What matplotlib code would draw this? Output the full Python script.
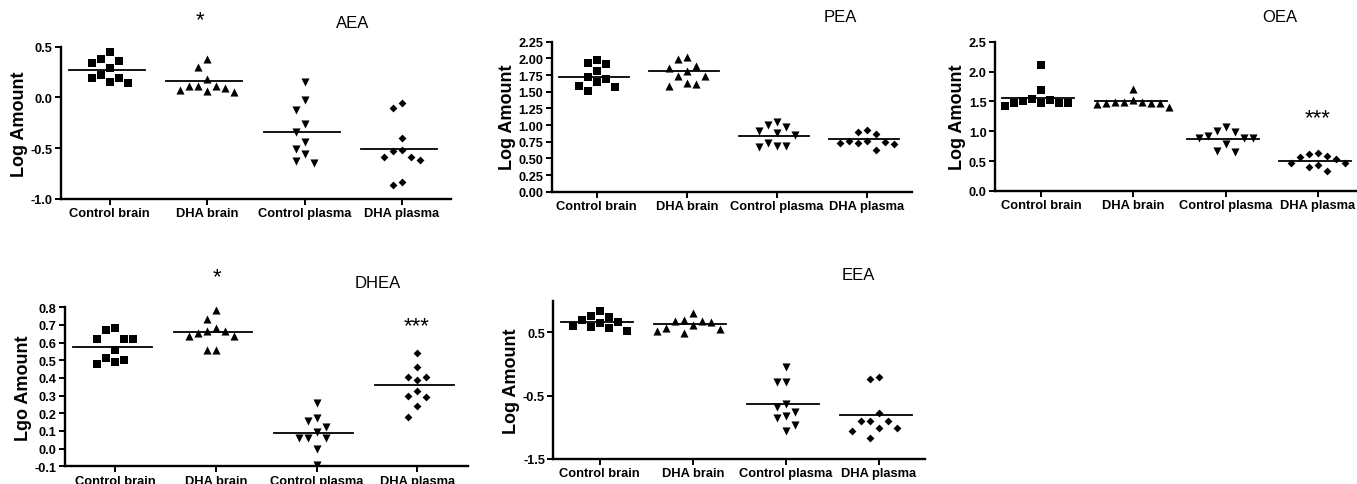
import matplotlib
matplotlib.use("Agg")
import matplotlib.pyplot as plt
import numpy as np

plt.rcParams['font.family'] = ['Liberation Sans', 'DejaVu Sans']

groups = ["Control brain", "DHA brain", "Control plasma", "DHA plasma"]

# values (log amount), one list per group
aea = [
    [0.378, 0.339, 0.444, 0.355, 0.289, 0.220, 0.187, 0.141, 0.155, 0.187],
    [0.378, 0.303, 0.181, 0.115, 0.115, 0.076, 0.049, 0.066, 0.089, 0.115],
    [0.155, -0.026, -0.125, -0.266, -0.336, -0.434, -0.510, -0.553, -0.641, -0.622],
    [-0.059, -0.105, -0.401, -0.530, -0.516, -0.589, -0.612, -0.589, -0.832, -0.862],
]
aea_mid = [0.27, 0.158, -0.339, -0.507]

pea = [
    [1.975, 1.915, 1.925, 1.805, 1.715, 1.69, 1.59, 1.505, 1.565, 1.64],
    [2.015, 1.99, 1.89, 1.855, 1.815, 1.74, 1.73, 1.63, 1.59, 1.615],
    [1.05, 1.0, 0.975, 0.905, 0.88, 0.85, 0.69, 0.665, 0.68, 0.73],
    [0.865, 0.9, 0.93, 0.73, 0.71, 0.755, 0.755, 0.73, 0.625, 0.74],
]
pea_mid = [1.725, 1.805, 0.84, 0.79]

oea = [
    [2.115, 1.69, 1.523, 1.468, 1.468, 1.423, 1.54, 1.468, 1.468, 1.512],
    [1.708, 1.484, 1.468, 1.468, 1.523, 1.40, 1.484, 1.456, 1.468, 1.484],
    [1.066, 0.999, 0.993, 0.915, 0.887, 0.887, 0.887, 0.787, 0.647, 0.675],
    [0.619, 0.631, 0.564, 0.536, 0.463, 0.396, 0.340, 0.441, 0.469, 0.59],
]
oea_mid = [1.557, 1.512, 0.865, 0.508]

dhea = [
    [0.681, 0.674, 0.621, 0.621, 0.621, 0.558, 0.502, 0.479, 0.492, 0.513],
    [0.785, 0.734, 0.681, 0.664, 0.640, 0.640, 0.653, 0.668, 0.560, 0.560],
    [0.257, 0.158, 0.172, 0.121, 0.092, 0.058, 0.058, 0.058, -0.002, -0.092],
    [0.542, 0.460, 0.408, 0.408, 0.391, 0.325, 0.294, 0.300, 0.243, 0.181],
]
dhea_mid = [0.574, 0.662, 0.089, 0.360]

eea = [
    [0.832, 0.737, 0.695, 0.753, 0.647, 0.579, 0.526, 0.563, 0.605, 0.66],
    [0.805, 0.695, 0.684, 0.674, 0.62, 0.553, 0.489, 0.526, 0.563, 0.66],
    [-0.053, -0.279, -0.289, -0.684, -0.637, -0.816, -0.858, -0.763, -1.053, -0.958],
    [-0.2, -0.237, -0.779, -0.895, -0.895, -0.895, -1.011, -1.011, -1.053, -1.168],
]
eea_mid = [0.658, 0.637, -0.637, -0.805]

markers = ["s", "^", "v", "D"]
msizes = [30, 34, 34, 16]

W, H = 1357, 485
fig = plt.figure(figsize=(W / 100, H / 100), dpi=100)


def box(l, r, t, b):
    return [l / W, 1 - b / H, (r - l) / W, (b - t) / H]


def swarm(ax, x0, vals, gap=9.0, vgap=11.0):
    # prism-like scatter: spread points that sit at about the same height
    order = np.argsort(vals)[::-1]
    ypix = ax.transData.transform(np.column_stack([np.zeros(len(vals)), vals]))[:, 1]
    xpix0 = ax.transData.transform([[x0, 0]])[0, 0]
    placed = []
    xs = np.zeros(len(vals))
    for i in order:
        for k in [0, -1, 1, -2, 2, -3, 3, -4, 4, -5, 5]:
            xp = xpix0 + k * gap
            ok = all(abs(xp - px) >= gap - 0.1 or abs(ypix[i] - py) >= vgap for px, py in placed)
            if ok:
                break
        placed.append((xp, ypix[i]))
        xs[i] = ax.transData.inverted().transform([[xp, 0]])[0, 0]
    return xs


def panel(rect, data, mids, ylim, yticks, fmt, ylabel, title, title_xy):
    ax = fig.add_axes(box(*rect))
    ax.set_xlim(-0.5, 3.5)
    ax.set_ylim(*ylim)
    for j, vals in enumerate(data):
        xs = swarm(ax, j, np.array(vals))
        ax.scatter(xs, vals, marker=markers[j], s=msizes[j], color="black",
                   linewidths=0, zorder=3)
        ax.plot([j - 0.42, j + 0.36], [mids[j], mids[j]], color="black", lw=1.3, zorder=2)
    ax.set_xticks(range(4))
    ax.set_xticklabels(groups, fontsize=9.3, fontweight="bold")
    ax.set_yticks(yticks)
    ax.set_yticklabels([fmt % v for v in yticks], fontsize=9.2, fontweight="bold")
    ax.set_ylabel(ylabel, fontsize=13, fontweight="bold", labelpad=2)
    for s in ["top", "right"]:
        ax.spines[s].set_visible(False)
    for s in ["left", "bottom"]:
        ax.spines[s].set_linewidth(1.7)
    ax.tick_params(axis="both", length=4, width=1.4, pad=2)
    fig.text(title_xy[0] / W, 1 - title_xy[1] / H, title, fontsize=12,
             ha="center", va="center")
    return ax


panel((61, 450.7, 47.7, 200), aea, aea_mid, (-1.0, 0.5), [0.5, 0.0, -0.5, -1.0], "%.1f",
      "Log Amount", "AEA", (353, 23))
panel((551.7, 911.7, 42.7, 192.7), pea, pea_mid, (0, 2.25), np.arange(0, 2.26, 0.25), "%.2f",
      "Log Amount", "PEA", (840, 18))
panel((995, 1364, 42.7, 192), oea, oea_mid, (0, 2.5), np.arange(0, 2.51, 0.5), "%.1f",
      "Log Amount", "OEA", (1280, 18))
panel((65, 467.7, 308.3, 467.3), dhea, dhea_mid, (-0.1, 0.8), np.arange(-0.1, 0.81, 0.1), "%.1f",
      "Lgo Amount", "DHEA", (378, 283))
panel((553.3, 925, 301.7, 460), eea, eea_mid, (-1.5, 1.0), [0.5, -0.5, -1.5], "%.1f",
      "Log Amount", "EEA", (858, 275))

# significance marks
for txt, (x, y) in [("*", (200, 21)), ("*", (217, 278)), ("***", (417, 327)), ("***", (1318, 119))]:
    fig.text(x / W, 1 - y / H, txt, fontsize=16, ha="center", va="center")

fig.savefig("out.png", dpi=100)
